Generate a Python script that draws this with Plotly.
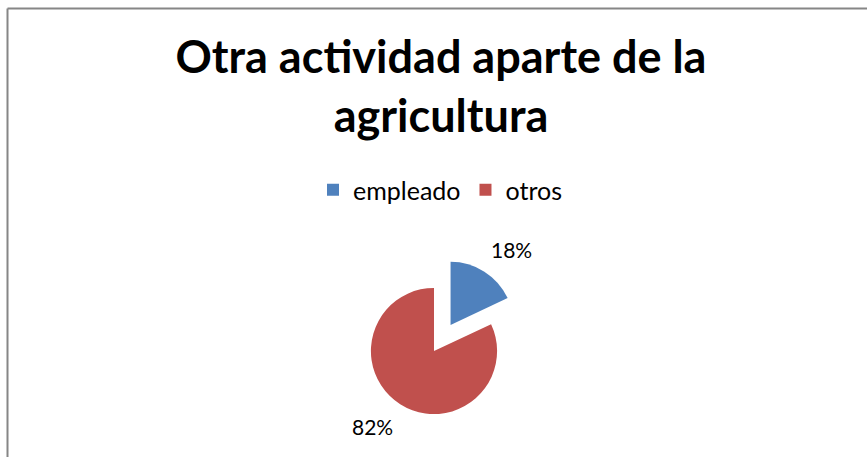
import math
import plotly.graph_objects as go

# Data
categories = ["empleado", "otros"]
values = [18, 82]
colors = ["#4F81BD", "#C0504D"]
pulls = [0.49, 0]
title_text = "Otra actividad aparte de la<br>agricultura"

W, H = 867, 457
cx, cy, half = 434, 351, 94  # pie box centre and half-size in pixels
label_dist = 1.17            # label anchor distance, in pie radii

fig = go.Figure(
    go.Pie(
        labels=categories,
        values=values,
        marker=dict(colors=colors),
        pull=pulls,
        sort=False,
        direction="clockwise",
        rotation=0,
        textinfo="none",
        domain=dict(
            x=[(cx - half) / W, (cx + half) / W],
            y=[(H - cy - half) / H, (H - cy + half) / H],
        ),
        hoverinfo="label+percent",
    )
)

# percentage labels placed outside each slice, derived from the values
r = half / (1 + max(pulls))
total = sum(values)
cum = 0.0
annotations = []
for v, p in zip(values, pulls):
    mid = 2 * math.pi * (cum + v / 2) / total
    cum += v
    dx, dy = math.sin(mid), math.cos(mid)
    sx = cx + p * r * dx
    sy = cy - p * r * dy
    ax = sx + label_dist * r * dx
    ay = sy - label_dist * r * dy
    annotations.append(dict(
        text=f"{round(100 * v / total)}%",
        x=ax / W, y=1 - ay / H, xref="paper", yref="paper",
        xanchor="left" if dx > 0 else "right",
        yanchor="bottom" if dy > 0 else "top",
        showarrow=False, borderpad=0,
        font=dict(family="Lato", size=21, color="#000000"),
    ))

fig.update_layout(
    width=W,
    height=H,
    autosize=False,
    margin=dict(l=0, r=0, t=0, b=0, autoexpand=False),
    paper_bgcolor="white",
    plot_bgcolor="white",
    title=dict(
        text="<b>" + title_text + "</b>",
        font=dict(family="Lato", size=45, color="#000000"),
        x=441 / W,
        xanchor="center",
        y=1 - 73 / H,
        yanchor="top",
    ),
    legend=dict(
        orientation="h",
        x=440 / W,
        xanchor="center",
        y=1 - 190 / H,
        yanchor="middle",
        font=dict(family="Lato", size=25, color="#000000"),
        itemwidth=30,
    ),
    annotations=annotations,
    shapes=[
        dict(type="line", xref="paper", yref="paper", x0=7.5 / W, x1=1.01,
             y0=1 - 8.5 / H, y1=1 - 8.5 / H, line=dict(color="#868686", width=2)),
        dict(type="line", xref="paper", yref="paper", x0=7.5 / W, x1=7.5 / W,
             y0=1 - 8.5 / H, y1=-0.02, line=dict(color="#868686", width=2)),
    ],
)

fig.write_html(
    "out.html",
    config={"responsive": False, "displayModeBar": False},
    post_script="document.body.style.margin='0px';document.body.style.overflow='hidden';",
)
